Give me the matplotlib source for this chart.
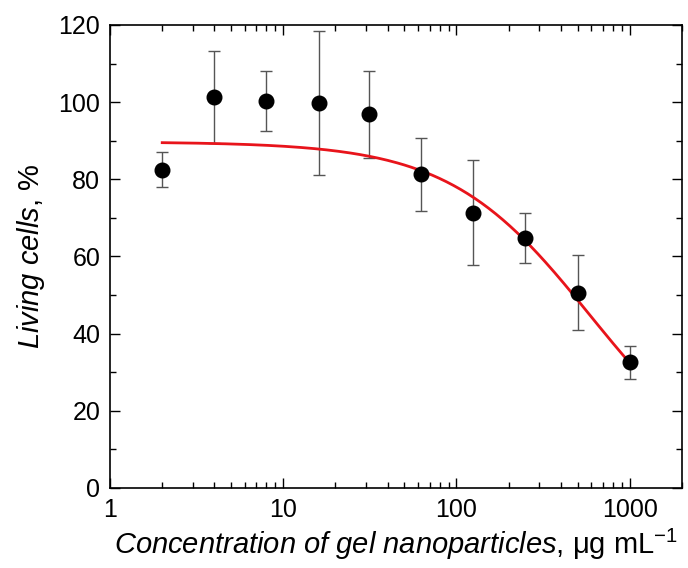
import numpy as np
import matplotlib
matplotlib.use("Agg")
import matplotlib.pyplot as plt
from matplotlib.ticker import LogLocator, MultipleLocator, NullFormatter

plt.rcParams['font.family'] = ['Liberation Sans', 'DejaVu Sans']
plt.rcParams['mathtext.fontset'] = 'custom'
plt.rcParams['mathtext.rm'] = 'Liberation Sans'
plt.rcParams['mathtext.it'] = 'Liberation Sans:italic'

# concentration, ug/mL
conc = [2, 4, 8, 16, 31.25, 62.5, 125, 250, 500, 1000]
living = [82.5, 101.3, 100.3, 99.8, 96.8, 81.3, 71.3, 64.8, 50.6, 32.6]
err = [4.5, 11.9, 7.8, 18.6, 11.3, 9.4, 13.6, 6.5, 9.7, 4.3]

# fitted dose-response curve: top / (1 + (x/ic50)^n)
top = 89.7
ic50 = 588.0
hill = 1.07

fig = plt.figure(figsize=(6.88, 5.68), dpi=100)
ax = fig.add_axes([0.160, 0.141, 0.831, 0.815])

xf = np.logspace(np.log10(conc[0]), np.log10(conc[-1]), 200)
yf = top / (1 + (xf / ic50) ** hill)

ax.errorbar(conc, living, yerr=err, fmt='none', ecolor='#555555',
            elinewidth=1, capsize=4, capthick=1, zorder=2)
ax.plot(xf, yf, color='#e8141b', lw=2, zorder=3)
ax.plot(conc, living, 'o', color='black', ms=10.5, zorder=4)

ax.set_xscale('log')
ax.set_xlim(1, 2000)
ax.set_ylim(0, 120)
ax.xaxis.set_minor_locator(LogLocator(base=10, subs=np.arange(2, 10), numticks=20))
ax.xaxis.set_minor_formatter(NullFormatter())
ax.set_xticks([1, 10, 100, 1000])
ax.set_xticklabels(['1', '10', '100', '1000'])
ax.yaxis.set_major_locator(MultipleLocator(20))
ax.yaxis.set_minor_locator(MultipleLocator(10))

ax.tick_params(which='both', direction='in', top=True, right=True, labelsize=18, width=1)
ax.tick_params(which='major', length=7, pad=7)
ax.tick_params(which='minor', length=4)
for s in ax.spines.values():
    s.set_linewidth(1.2)

ax.set_xlabel(r'$\it{Concentration\ of\ gel\ nanoparticles}$, μg mL$^{-1}$', fontsize=21, labelpad=4)
ax.set_ylabel(r'$\it{Living\ cells}$, %', fontsize=21, labelpad=8)

fig.savefig('out.png', dpi=100)
